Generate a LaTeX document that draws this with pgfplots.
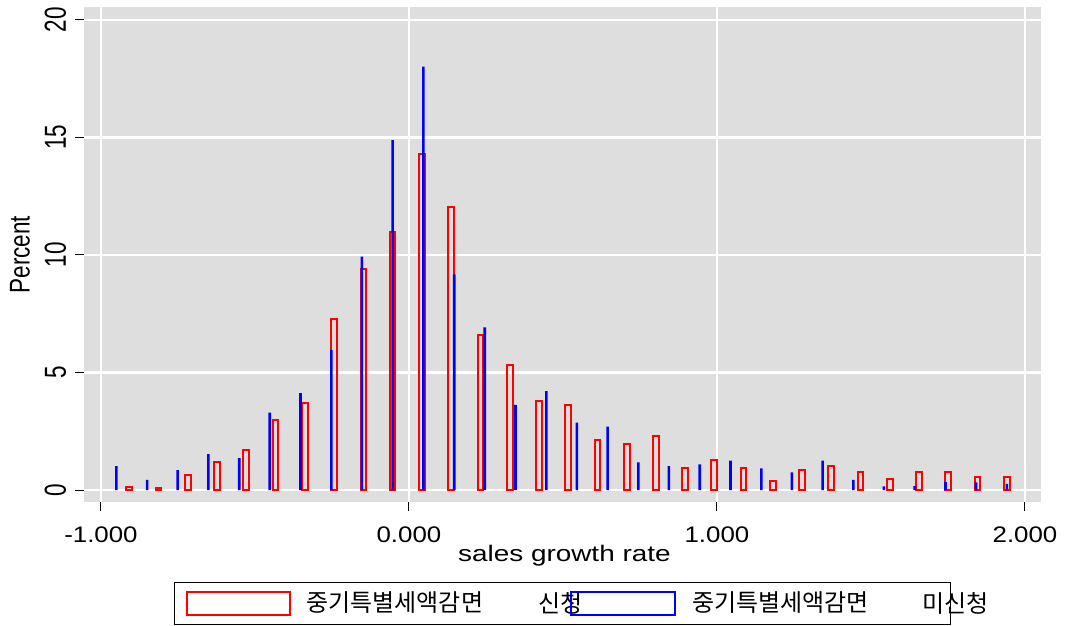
\documentclass[border=0pt]{standalone}
\usepackage{fontspec}
\setmainfont{Liberation Sans}
\newfontfamily\kr{Noto Sans CJK KR}
\usepackage{pgfplots}
\pgfplotsset{compat=1.18}
\definecolor{plotbg}{RGB}{222,222,222}
\begin{document}
\begin{tikzpicture}
\useasboundingbox (0pt,0pt) rectangle (426pt,250pt);
\begin{axis}[
  at={(33.6pt,49.2pt)}, anchor=south west,
  scale only axis, width=382.8pt, height=198pt,
  xmin=-1.055, xmax=2.052, ymin=-0.51, ymax=20.55,
  axis background/.style={fill=plotbg},
  axis line style={draw=none},
  tick align=outside, tick pos=left,
  major tick length=3.6pt,
  tick style={black, line width=0.4pt},
  xtick={-1,0,1,2}, xticklabels={-1.000,0.000,1.000,2.000},
  ytick={0,5,10,15,20}, yticklabels={0,5,10,15,20},
  grid=major, grid style={white, line width=1.1pt},
  tick label style={font=\fontsize{9}{10}\selectfont},
  xticklabel style={xscale=1.15, anchor=base, inner sep=0pt},
  xticklabel shift=12.4pt,
  yticklabel style={xscale=1.35, rotate=90, anchor=base, inner sep=0pt},
  yticklabel shift=3.6pt,
  xlabel={sales growth rate}, ylabel={Percent},
  every axis x label/.style={at={(axis description cs:0.502,-0.109)}, anchor=center, xscale=1.24, font=\fontsize{9}{10}\selectfont},
  every axis y label/.style={at={(axis description cs:-0.0669,0.5)}, xscale=1.27, rotate=90, anchor=center, font=\fontsize{9}{10}\selectfont},
]
\addplot[ybar, bar width=0.0185, bar shift=0pt, draw=red, line width=0.8pt, fill=none] coordinates {
(-0.908,0.14) (-0.813,0.08) (-0.718,0.62) (-0.623,1.19) (-0.528,1.72) (-0.433,2.99) (-0.338,3.70) (-0.243,7.28) (-0.148,9.40) (-0.053,10.99) (0.042,14.28) (0.137,12.06) (0.232,6.60) (0.327,5.32) (0.422,3.80) (0.517,3.63) (0.612,2.13) (0.707,1.96) (0.802,2.30) (0.896,0.94) (0.991,1.28) (1.086,0.94) (1.181,0.40) (1.276,0.86) (1.371,1.04) (1.466,0.78) (1.561,0.45) (1.656,0.78) (1.751,0.78) (1.846,0.55) (1.941,0.55)
};
\addplot[ybar, bar width=0.0085, bar shift=0pt, fill=blue, draw=none] coordinates {
(-0.950,1.02) (-0.850,0.43) (-0.751,0.85) (-0.651,1.53) (-0.551,1.36) (-0.452,3.29) (-0.352,4.12) (-0.252,5.96) (-0.153,9.93) (-0.053,14.89) (0.047,18.01) (0.147,9.18) (0.246,6.92) (0.346,3.62) (0.446,4.21) (0.545,2.87) (0.645,2.70) (0.745,1.18) (0.844,1.02) (0.944,1.09) (1.044,1.25) (1.144,0.92) (1.243,0.75) (1.343,1.25) (1.443,0.43) (1.542,0.16) (1.642,0.17) (1.742,0.34) (1.841,0.33) (1.941,0.26)
};
\end{axis}
\draw[line width=0.4pt] (69.6pt,0.4pt) rectangle (380pt,17.2pt);
\draw[red, line width=0.8pt] (74.8pt,4pt) rectangle (116pt,13.32pt);
\node[anchor=west, inner sep=0pt, font=\kr\fontsize{9.6}{10}\selectfont] at (122.4pt,8.8pt) {중기특별세액감면};
\node[anchor=west, inner sep=0pt, font=\kr\fontsize{9.6}{10}\selectfont] at (215.2pt,8.8pt) {신청};
\draw[blue, line width=0.8pt] (228.4pt,4pt) rectangle (270pt,13.32pt);
\node[anchor=west, inner sep=0pt, font=\kr\fontsize{9.6}{10}\selectfont] at (276.6pt,8.8pt) {중기특별세액감면};
\node[anchor=west, inner sep=0pt, font=\kr\fontsize{9.6}{10}\selectfont] at (368.8pt,8.8pt) {미신청};
\end{tikzpicture}
\end{document}
